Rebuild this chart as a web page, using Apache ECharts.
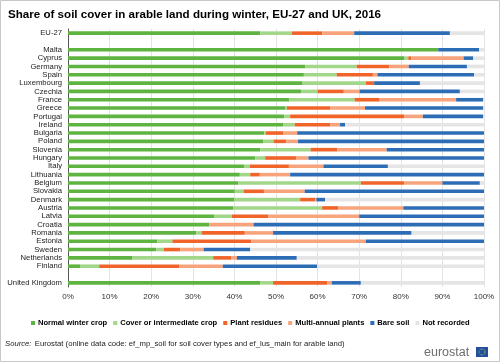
<!DOCTYPE html>
<html><head><meta charset="utf-8">
<script src="https://cdn.jsdelivr.net/npm/echarts@6/dist/echarts.min.js"></script>
<style>html,body{margin:0;padding:0;background:#fff}#c{width:500px;height:362px}</style>
</head><body><div id="c"></div>
<script>
const categories = ['EU-27','','Malta','Cyprus','Germany','Spain','Luxembourg','Czechia','France','Greece','Portugal','Ireland','Bulgaria','Poland','Slovenia','Hungary','Italy','Lithuania','Belgium','Slovakia','Denmark','Austria','Latvia','Croatia','Romania','Estonia','Sweden','Netherlands','Finland','','United Kingdom'];
const normalWinterCrop = [46.2,'-',89.0,80.8,57.0,56.7,56.4,56.0,53.2,52.3,52.0,51.7,47.2,46.9,46.2,45.0,42.3,41.3,40.9,40.1,39.9,39.7,35.1,34.0,30.8,21.5,21.2,15.5,2.9,'-',46.2];
const coverCrop = [7.6,'-',0,1.0,12.4,7.9,15.2,4.0,15.7,0.3,1.4,2.8,0.3,2.5,12.1,2.4,1.4,2.5,29.5,2.1,15.9,21.4,4.3,0,1.3,3.6,1.8,19.4,4.6,'-',3.1];
const plantResidues = [7.3,'-',0,0.7,7.8,8.7,2.0,6.3,6.0,10.5,27.4,8.5,4.3,3.1,6.4,7.4,9.4,2.3,10.4,4.9,3.7,3.9,8.7,0,10.4,18.9,4.0,4.4,19.3,'-',13.0];
const multiAnnual = [7.7,'-',0,12.6,4.7,1.1,0,3.8,18.4,8.3,4.5,2.4,3.3,2.8,11.9,3.0,8.3,7.3,9.2,9.8,0.2,15.6,21.9,10.6,6.8,27.6,5.6,1.3,10.4,'-',1.1];
const bareSoil = [23.0,'-',9.8,2.3,14.0,23.2,11.0,24.1,6.5,28.4,14.5,1.2,44.9,44.7,23.4,42.2,15.5,46.6,9.0,43.1,2.1,19.4,30.0,55.4,33.3,28.4,11.2,14.4,22.7,'-',7.0];
const notRecorded = [8.2,'-',1.2,2.6,4.1,2.4,15.4,5.8,0.2,0.2,0.2,33.4,0,0,0,0,23.1,0,1.0,0,38.2,0,0,0,17.4,0,56.2,45.0,40.1,'-',29.6];
const xTicks = [0,10,20,30,40,50,60,70,80,90,100];

const seriesDefs = [
  ['Normal winter crop', normalWinterCrop, '#5fb441'],
  ['Cover or intermediate crop', coverCrop, '#a2d78a'],
  ['Plant residues', plantResidues, '#f0642a'],
  ['Multi-annual plants', multiAnnual, '#f7a47c'],
  ['Bare soil', bareSoil, '#2d6db5'],
  ['Not recorded', notRecorded, '#e5e5e5']
];
const font = 'Liberation Sans, Arial, sans-serif';
const chart = echarts.init(document.getElementById('c'));
chart.setOption({
  animation: false,
  title: {text: 'Share of soil cover in arable land during winter, EU-27 and UK, 2016', left: 3, top: 4,
    textStyle: {fontFamily: font, fontSize: 11.6, fontWeight: 'bold', color: '#000'}},
  grid: {left: 68, right: 16, top: 29, bottom: 75, containLabel: false},
  legend: {left: 26, top: 314, itemWidth: 4, itemHeight: 4, itemGap: 6, icon: 'rect',
    textStyle: {fontFamily: font, fontSize: 7.6, fontWeight: 'bold', color: '#000', padding: [0,0,0,-2]},
    data: seriesDefs.map(s => s[0])},
  xAxis: {type: 'value', min: 0, max: 100, interval: 10,
    axisLine: {show: false}, axisTick: {show: false},
    splitLine: {lineStyle: {color: '#e3e3e3', width: 1}},
    axisLabel: {formatter: v => xTicks.includes(v) ? v + '%' : '', fontFamily: font, fontSize: 8, color: '#333', margin: 6}},
  yAxis: {type: 'category', inverse: true, data: categories,
    axisLine: {lineStyle: {color: '#555'}},
    axisTick: {length: 3, lineStyle: {color: '#555'}},
    axisLabel: {interval: 0, fontFamily: font, fontSize: 7.7, color: '#222', margin: 6}},
  series: seriesDefs.map(s => ({name: s[0], type: 'bar', stack: 'total', data: s[1], barWidth: 3.6,
    itemStyle: {color: s[2]}, emphasis: {disabled: true}})),
  graphic: [
    {type: 'rect', shape: {x: 0.5, y: 0.5, width: 499, height: 361}, style: {fill: 'none', stroke: '#c8c8c8', lineWidth: 1}, silent: true},
    {type: 'text', left: 5, top: 338, style: {rich: {i: {fontStyle: 'italic', fontFamily: font, fontSize: 7.7, fill: '#222'}, n: {fontFamily: font, fontSize: 7.7, fill: '#222'}},
      text: '{i|Source:} {n|Eurostat (online data code: ef_mp_soil for soil cover types and ef_lus_main for arable land)}'}},
    {type: 'text', left: 424, top: 346, style: {text: 'eurostat', fontFamily: font, fontSize: 12.5, fill: '#6d6d6d'}},
    {type: 'rect', shape: {x: 476, y: 347, width: 12, height: 10}, style: {fill: '#1f4f9e'}},
    {type: 'circle', shape: {cx: 482, cy: 352, r: 3}, style: {fill: 'none', stroke: '#f3d21a', lineWidth: 0.8, lineDash: [0.8, 0.8]}}
  ]
});
</script></body></html>
